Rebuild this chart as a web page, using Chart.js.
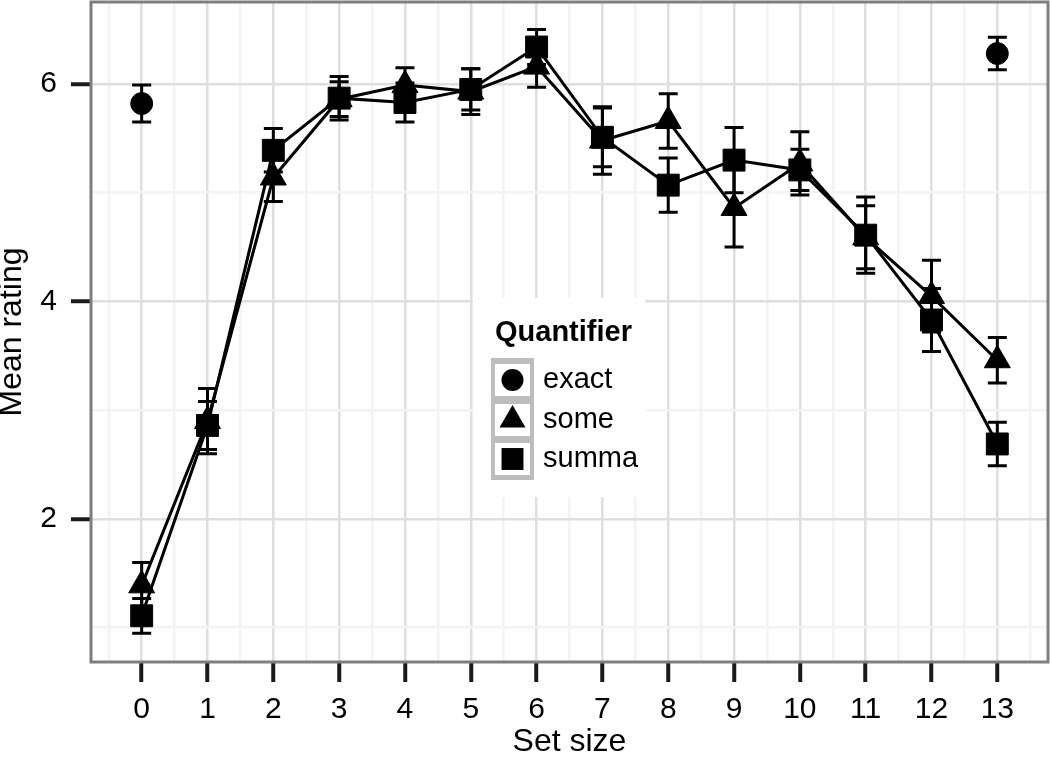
<!DOCTYPE html>
<html>
<head>
<meta charset="utf-8">
<script src="https://cdn.jsdelivr.net/npm/chart.js@4/dist/chart.umd.min.js"></script>
<style>
  body { margin: 0; background: #fff; }
  canvas { display: block; }
</style>
</head>
<body>
<canvas id="myChart" width="1050" height="758"></canvas>
<script>
// data (mean rating +/- error per set size)
const setSizes = [0, 1, 2, 3, 4, 5, 6, 7, 8, 9, 10, 11, 12, 13];
const exactMean = [5.82, null, null, null, null, null, null, null, null, null, null, null, null, 6.28];
const exactErr  = [0.17, null, null, null, null, null, null, null, null, null, null, null, null, 0.15];
const someMean  = [1.39, 2.90, 5.14, 5.86, 5.99, 5.93, 6.16, 5.48, 5.66, 4.86, 5.27, 4.59, 4.05, 3.46];
const someErr   = [0.21, 0.30, 0.22, 0.16, 0.16, 0.21, 0.19, 0.31, 0.25, 0.36, 0.29, 0.29, 0.33, 0.21];
const summaMean = [1.11, 2.86, 5.39, 5.87, 5.83, 5.95, 6.34, 5.51, 5.07, 5.30, 5.21, 4.61, 3.83, 2.69];
const summaErr  = [0.16, 0.22, 0.20, 0.20, 0.18, 0.19, 0.16, 0.27, 0.25, 0.30, 0.19, 0.35, 0.29, 0.20];
const seriesNames = ['exact', 'some', 'summa'];
const pointStyles = ['circle', 'triangle', 'rect'];
const pointSizes = [11, 15, 15.5];
const xTicks = [-0.5, 0, 0.5, 1, 1.5, 2, 2.5, 3, 3.5, 4, 4.5, 5, 5.5, 6, 6.5, 7, 7.5, 8, 8.5, 9, 9.5, 10, 10.5, 11, 11.5, 12, 12.5, 13, 13.5];
const yTicks = [1, 2, 3, 4, 5, 6];
const yLabels = [2, 4, 6];

function points(means, errs) {
  const out = [];
  for (var i = 0; i < setSizes.length; i++) {
    if (means[i] === null) continue;
    out.push({x: setSizes[i], y: means[i], err: errs[i]});
  }
  return out;
}

const FONT = "'Liberation Sans', Arial, sans-serif";
const majorGrid = '#dedede';
const minorGrid = '#f3f3f3';

const errorBars = {
  id: 'errorBars',
  beforeDatasetsDraw(chart) {
    const ctx = chart.ctx, xs = chart.scales.x, ys = chart.scales.y;
    ctx.save();
    ctx.strokeStyle = '#000';
    ctx.lineWidth = 3;
    chart.data.datasets.forEach(ds => {
      ds.data.forEach(p => {
        const px = xs.getPixelForValue(p.x);
        const top = ys.getPixelForValue(p.y + p.err);
        const bot = ys.getPixelForValue(p.y - p.err);
        ctx.beginPath();
        ctx.moveTo(px, top); ctx.lineTo(px, bot);
        ctx.moveTo(px - 9.5, top); ctx.lineTo(px + 9.5, top);
        ctx.moveTo(px - 9.5, bot); ctx.lineTo(px + 9.5, bot);
        ctx.stroke();
      });
    });
    ctx.restore();
  }
};

const panelBorder = {
  id: 'panelBorder',
  afterDraw(chart) {
    const a = chart.chartArea, ctx = chart.ctx;
    ctx.save();
    ctx.strokeStyle = '#7f7f7f';
    ctx.lineWidth = 3;
    ctx.strokeRect(a.left, a.top, a.right - a.left, a.bottom - a.top);
    ctx.restore();
  }
};

// ggplot style legend sitting inside the panel
const quantLegend = {
  id: 'quantLegend',
  afterDraw(chart) {
    const ctx = chart.ctx;
    ctx.save();
    ctx.fillStyle = '#fff';
    ctx.fillRect(473, 298, 172, 199);
    ctx.fillStyle = '#000';
    ctx.font = 'bold 29px ' + FONT;
    ctx.textBaseline = 'middle';
    ctx.textAlign = 'left';
    ctx.fillText('Quantifier', 495, 333);
    ctx.fillStyle = '#bdbdbd';
    ctx.fillRect(491, 358, 43, 122);
    const keyY = [380, 420, 459];
    ctx.font = '29px ' + FONT;
    for (var i = 0; i < seriesNames.length; i++) {
      ctx.fillStyle = '#fff';
      ctx.fillRect(495, keyY[i] - 16, 35, 32);
      ctx.fillStyle = '#000';
      Chart.helpers.drawPoint(ctx, {pointStyle: pointStyles[i], radius: pointSizes[i], rotation: 0, borderWidth: 0}, 512.5, keyY[i]);
      ctx.fillStyle = '#000';
      ctx.fillText(seriesNames[i], 543, keyY[i]);
    }
    ctx.restore();
  }
};

const means = [exactMean, someMean, summaMean];
const errs = [exactErr, someErr, summaErr];
const datasets = seriesNames.map((name, i) => ({
  label: name,
  data: points(means[i], errs[i]),
  showLine: i > 0,
  borderColor: '#000',
  backgroundColor: '#000',
  borderWidth: 3,
  pointStyle: pointStyles[i],
  pointRadius: pointSizes[i],
  pointBorderWidth: 1,
  pointBackgroundColor: '#000',
  pointBorderColor: '#000'
}));

var ctx = document.getElementById('myChart').getContext('2d');
var myChart = new Chart(ctx, {
  type: 'scatter',
  data: { datasets: datasets },
  plugins: [errorBars, panelBorder, quantLegend],
  options: {
    responsive: false,
    animation: false,
    devicePixelRatio: 1,
    layout: { autoPadding: false, padding: { top: 2, right: 2, left: 0, bottom: 0 } },
    plugins: { legend: { display: false }, tooltip: { enabled: false } },
    scales: {
      x: {
        type: 'linear',
        min: -0.77,
        max: 13.77,
        afterBuildTicks: axis => { axis.ticks = xTicks.map(v => ({value: v})); },
        afterFit: axis => {
          axis.height = 96;
          axis.paddingLeft = 0;
          axis.paddingRight = 0;
        },
        border: { display: false },
        grid: {
          color: c => Number.isInteger(c.tick.value) ? majorGrid : minorGrid,
          lineWidth: 2.5,
          tickColor: c => Number.isInteger(c.tick.value) ? '#1a1a1a' : 'rgba(0,0,0,0)',
          tickWidth: 4,
          tickLength: 20
        },
        ticks: {
          autoSkip: false,
          maxRotation: 0,
          padding: 10,
          color: '#000',
          font: { family: FONT, size: 30 },
          callback: v => Number.isInteger(v) ? String(v) : ''
        },
        title: {
          display: true,
          text: 'Set size',
          color: '#000',
          padding: 0,
          font: { family: FONT, size: 32, lineHeight: 1 }
        }
      },
      y: {
        type: 'linear',
        min: 0.685,
        max: 6.754,
        afterBuildTicks: axis => { axis.ticks = yTicks.map(v => ({value: v})); },
        afterFit: axis => {
          axis.width = 91;
          axis.paddingTop = 0;
          axis.paddingBottom = 0;
        },
        border: { display: false },
        grid: {
          color: c => yLabels.includes(c.tick.value) ? majorGrid : minorGrid,
          lineWidth: 2.5,
          tickColor: c => yLabels.includes(c.tick.value) ? '#1a1a1a' : 'rgba(0,0,0,0)',
          tickWidth: 4,
          tickLength: 20
        },
        ticks: {
          padding: 14,
          color: '#000',
          font: { family: FONT, size: 30 },
          callback: v => yLabels.includes(v) ? String(v) : ''
        },
        title: {
          display: true,
          text: 'Mean rating',
          color: '#000',
          padding: 0,
          font: { family: FONT, size: 32, lineHeight: 0.75 }
        }
      }
    }
  }
});
</script>
</body>
</html>
